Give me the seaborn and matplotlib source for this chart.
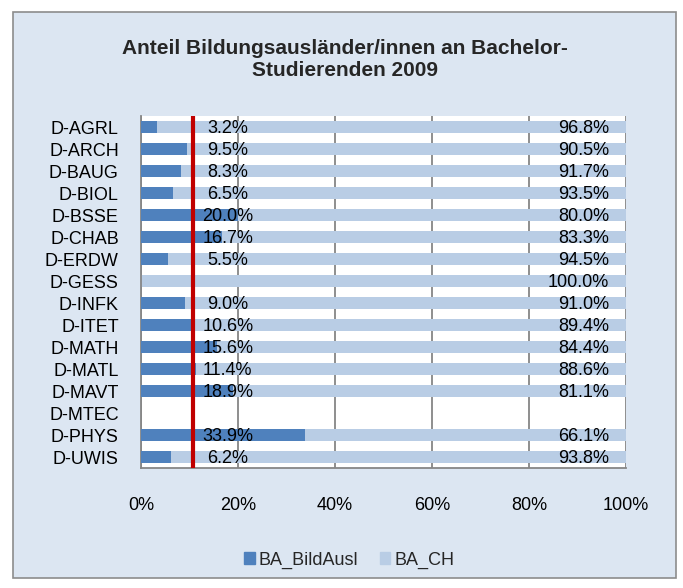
#-------------------------------------------
# Anteil Bildungsauslaender/innen an Bachelor-Studierenden 2009
#-------------------------------------------

import numpy as np
import pandas as pd
import matplotlib
matplotlib.use("Agg")
import matplotlib.pyplot as plt
import matplotlib.ticker as mtick
from matplotlib.patches import Rectangle, Patch
import seaborn as sns

#------------------ DATA -------------------------------------------

departments = ["D-AGRL", "D-ARCH", "D-BAUG", "D-BIOL", "D-BSSE", "D-CHAB", "D-ERDW", "D-GESS",
               "D-INFK", "D-ITET", "D-MATH", "D-MATL", "D-MAVT", "D-MTEC", "D-PHYS", "D-UWIS"]
ba_bildausl = [3.2, 9.5, 8.3, 6.5, 20.0, 16.7, 5.5, 0.0, 9.0, 10.6, 15.6, 11.4, 18.9, np.nan, 33.9, 6.2]
ba_ch = [96.8, 90.5, 91.7, 93.5, 80.0, 83.3, 94.5, 100.0, 91.0, 89.4, 84.4, 88.6, 81.1, np.nan, 66.1, 93.8]
threshold = 10.7

d = pd.DataFrame({"dept": departments, "BA_BildAusl": ba_bildausl, "BA_CH": ba_ch})
d["total"] = d["BA_BildAusl"] + d["BA_CH"]

#------------------ DATA VISUALISATION -----------------------------

sns.set_style("white")
plt.rcParams["font.family"] = ["Liberation Sans", "DejaVu Sans"]

dark = "#4f81bd"
light = "#b9cde5"
grid_grey = "#868686"

fig = plt.figure(figsize=(6.83, 5.88), dpi=100, facecolor="white")
fig.patches.append(Rectangle((13 / 683, 10 / 588), 663 / 683, 566 / 588, transform=fig.transFigure,
                             facecolor="#dce6f2", edgecolor="#8c8c8c", linewidth=1.2, zorder=-1))

ax = fig.add_axes([141 / 683, 1 - 468 / 588, 485 / 683, 352 / 588])
ax.set_facecolor("white")

# Stacked bars: full length in light blue, foreign share on top in dark blue

sns.barplot(data=d, x="total", y="dept", order=departments, color=light, width=0.56,
            saturation=1, linewidth=0, ax=ax, zorder=2)
sns.barplot(data=d, x="BA_BildAusl", y="dept", order=departments, color=dark, width=0.56,
            saturation=1, linewidth=0, ax=ax, zorder=3)

# Reference line

ax.axvline(threshold, color="#c00000", linewidth=3, zorder=5)

# Value labels

for i, row in d.iterrows():
    if np.isnan(row["BA_CH"]):
        continue
    if row["BA_BildAusl"] > 0:
        ax.text(17.9, i + 0.08, f"{row['BA_BildAusl']:.1f}%", ha="center", va="center",
                fontsize=13, color="black", zorder=6)
    ax.text(96.5, i + 0.08, f"{row['BA_CH']:.1f}%", ha="right", va="center",
            fontsize=13, color="black", zorder=6)

# Axes

ax.set_xlim(0, 100)
ax.set_ylim(15.5, -0.5)
ax.xaxis.set_major_locator(mtick.MultipleLocator(20))
ax.xaxis.set_major_formatter(mtick.StrMethodFormatter("{x:.0f}%"))
ax.grid(axis="x", color=grid_grey, linewidth=1.3)
ax.grid(axis="y", visible=False)
ax.set_axisbelow(True)
ax.tick_params(axis="both", length=0, labelsize=13, colors="black")
ax.tick_params(axis="x", pad=21)
ax.tick_params(axis="y", pad=16)
ax.set_xlabel("")
ax.set_ylabel("")
for s in ["top", "right"]:
    ax.spines[s].set_visible(False)
for s in ["left", "bottom"]:
    ax.spines[s].set_color(grid_grey)
    ax.spines[s].set_linewidth(1.3)

fig.text(345 / 683, 1 - 60 / 588, "Anteil Bildungsausländer/innen an Bachelor-\nStudierenden 2009",
         ha="center", va="center", fontsize=15, fontweight="bold", linespacing=1.2)

handles = [Patch(color=dark, label="BA_BildAusl"), Patch(color=light, label="BA_CH")]
fig.legend(handles=handles, loc="center", bbox_to_anchor=(349 / 683, 1 - 560 / 588), ncol=2,
           frameon=False, fontsize=13, handlelength=0.6, handleheight=0.6, handletextpad=0.2,
           columnspacing=1.2)

plt.savefig("out.png", dpi=100, facecolor="white")
